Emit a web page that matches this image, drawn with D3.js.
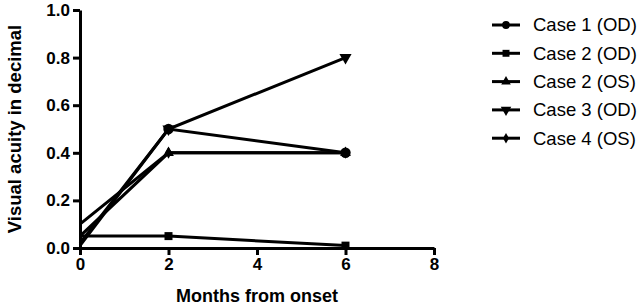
<!DOCTYPE html>
<html>
<head>
<meta charset="utf-8">
<script src="https://cdn.jsdelivr.net/npm/d3@7"></script>
<style>
  body { margin: 0; background: #fff; }
  svg { display: block; }
</style>
</head>
<body>
<div id="chart"></div>
<script>
// values
const months = [0, 2, 6];
const seriesNames = ["Case 1 (OD)", "Case 2 (OD)", "Case 2 (OS)", "Case 3 (OD)", "Case 4 (OS)"];
const case1OD = [0.02, 0.5, 0.4];
const case2OD = [0.05, 0.05, 0.01];
const case2OS = [0.05, 0.4, 0.4];
const case3OD = [0.01, 0.5, 0.8];
const case4OS = [0.1, 0.4, 0.4];
const xTicks = [0, 2, 4, 6, 8];
const yTicks = [0, 0.2, 0.4, 0.6, 0.8, 1.0];

const seriesValues = [case1OD, case2OD, case2OS, case3OD, case4OS];
const symbols = [
  { type: d3.symbolCircle, size: 85, rot: 0 },
  { type: d3.symbolSquare, size: 64, rot: 0 },
  { type: d3.symbolTriangle, size: 50, rot: 0 },
  { type: d3.symbolTriangle, size: 64, rot: 180 },
  { type: d3.symbolDiamond, size: 40, rot: 0 }
];

const width = 644, height = 308;
const svg = d3.select("#chart").append("svg")
  .attr("width", width)
  .attr("height", height);

const x = d3.scaleLinear().domain([0, 8]).range([80, 434]);
const y = d3.scaleLinear().domain([0, 1]).range([248, 10]);

const font = "'Liberation Sans', Arial, sans-serif";

// axes
const xAxis = svg.append("g")
  .attr("transform", `translate(0,${y(0)})`)
  .call(d3.axisBottom(x).tickValues(xTicks).tickFormat(d3.format("d")).tickSize(7).tickPadding(3).tickSizeOuter(0));
const yAxis = svg.append("g")
  .attr("transform", `translate(${x(0)},0)`)
  .call(d3.axisLeft(y).tickValues(yTicks).tickFormat(d3.format(".1f")).tickSize(7).tickPadding(3).tickSizeOuter(0));

[xAxis, yAxis].forEach(a => {
  a.select(".domain").attr("stroke", "#000").attr("stroke-width", 3);
  a.selectAll(".tick line").attr("stroke", "#000").attr("stroke-width", 3);
  a.selectAll(".tick text")
    .attr("fill", "#000")
    .style("font-family", font)
    .style("font-weight", "bold")
    .style("font-size", "17px");
});

// axis titles
svg.append("text")
  .attr("x", x(4))
  .attr("y", 302)
  .attr("text-anchor", "middle")
  .style("font-family", font)
  .style("font-weight", "bold")
  .style("font-size", "18px")
  .text("Months from onset");

svg.append("text")
  .attr("transform", `translate(21,${(y(0) + y(1)) / 2}) rotate(-90)`)
  .attr("text-anchor", "middle")
  .style("font-family", font)
  .style("font-weight", "bold")
  .style("font-size", "18.5px")
  .text("Visual acuity in decimal");

// lines and markers (drawn last-to-first so Case 1 sits on top)
const line = d3.line()
  .x(d => x(d[0]))
  .y(d => y(d[1]));

seriesValues.map((vals, i) => i).reverse().forEach(i => {
  const pts = months.map((m, j) => [m, seriesValues[i][j]]);
  svg.append("path")
    .datum(pts)
    .attr("fill", "none")
    .attr("stroke", "#000")
    .attr("stroke-width", 3)
    .attr("d", line);

  // markers sitting on the y axis are hidden in the original
  const sym = d3.symbol().type(symbols[i].type).size(symbols[i].size);
  svg.selectAll(`.mk-${i}`)
    .data(pts.filter(d => d[0] > 0))
    .enter()
    .append("path")
    .attr("class", `mk-${i}`)
    .attr("d", sym)
    .attr("fill", "#000")
    .attr("transform", d => `translate(${x(d[0])},${y(d[1])}) rotate(${symbols[i].rot})`);
});

// legend
const legend = svg.append("g").attr("transform", "translate(492,25)");
seriesNames.forEach((name, i) => {
  const row = legend.append("g").attr("transform", `translate(0,${i * 28.3})`);
  row.append("line")
    .attr("x1", 0).attr("x2", 28)
    .attr("stroke", "#000")
    .attr("stroke-width", 3);
  row.append("path")
    .attr("d", d3.symbol().type(symbols[i].type).size(Math.min(symbols[i].size, 60) * 0.8))
    .attr("fill", "#000")
    .attr("transform", `translate(14,0) rotate(${symbols[i].rot})`);
  row.append("text")
    .attr("x", 41)
    .attr("y", 0)
    .attr("dy", "0.35em")
    .style("font-family", font)
    .style("font-size", "18.5px")
    .attr("fill", "#000")
    .text(name);
});
</script>
</body>
</html>
